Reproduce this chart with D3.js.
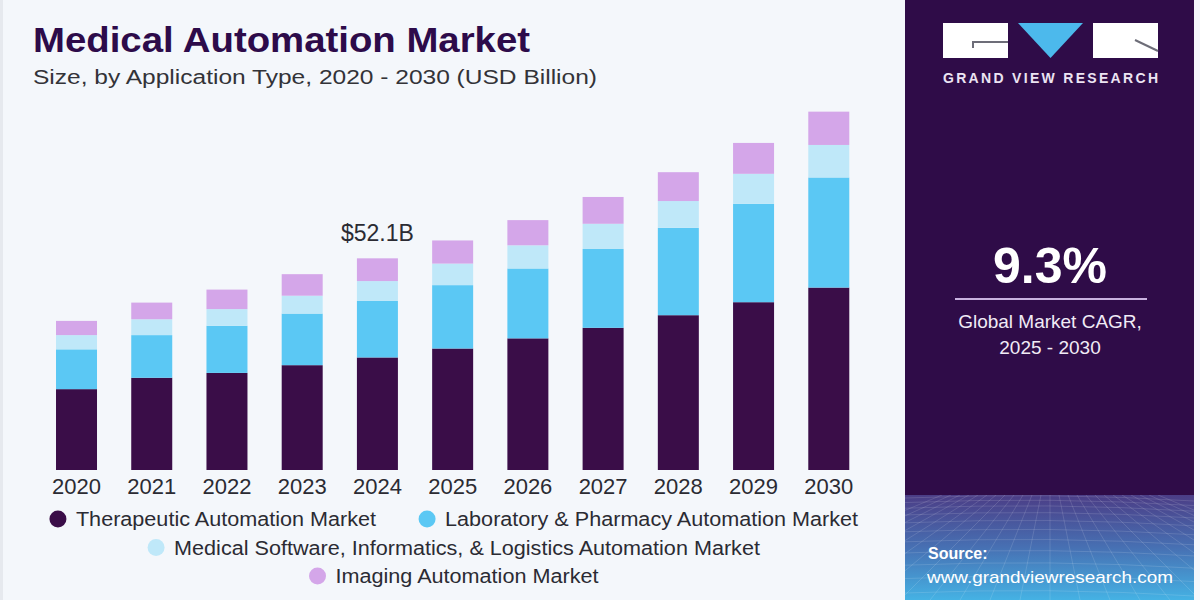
<!DOCTYPE html>
<html>
<head>
<meta charset="utf-8">
<script src="https://cdn.jsdelivr.net/npm/d3@7"></script>
<style>
  html, body { margin: 0; padding: 0; background: #f4f7fb; }
  svg { display: block; font-family: "Liberation Sans", Arial, sans-serif; }
</style>
</head>
<body>
<svg id="chart" width="1200" height="600"></svg>
<script>
// data (USD Billion)
var years = ["2020", "2021", "2022", "2023", "2024", "2025", "2026", "2027", "2028", "2029", "2030"];
var therapeutic = [19.9, 22.7, 23.9, 25.8, 27.7, 29.9, 32.4, 35.0, 38.1, 41.3, 44.9];
var labPharmacy = [9.8, 10.5, 11.6, 12.7, 13.9, 15.6, 17.2, 19.4, 21.5, 24.2, 27.1];
var software = [3.5, 3.9, 4.1, 4.4, 4.9, 5.3, 5.7, 6.2, 6.6, 7.4, 8.0];
var imaging = [3.5, 4.1, 4.8, 5.3, 5.6, 5.7, 6.2, 6.6, 7.1, 7.6, 8.2];
var seriesNames = [
    "Therapeutic Automation Market",
    "Laboratory & Pharmacy Automation Market",
    "Medical Software, Informatics, & Logistics Automation Market",
    "Imaging Automation Market"
];
var seriesColors = ["#3a0d48", "#5bc8f4", "#bfe8f9", "#d4a6e9"];
var highlightYear = "2024";
var highlightLabel = "$52.1B";
var legendRows = [[0, 1], [2], [3]];

var svg = d3.select("#chart");

// backgrounds
svg.append("rect").attr("width", 1200).attr("height", 600).attr("fill", "#f4f7fb");
svg.append("rect").attr("x", 0).attr("y", 0).attr("width", 3).attr("height", 600).attr("fill", "#e6e9ee");

// ---------- chart ----------
var table = years.map(function(y, i) {
    return {year: y, s0: therapeutic[i], s1: labPharmacy[i], s2: software[i], s3: imaging[i]};
});
var keys = ["s0", "s1", "s2", "s3"];
var stacked = d3.stack().keys(keys)(table);

var x = d3.scaleBand()
    .domain(years)
    .range([38.9, 866.4])
    .paddingInner(0.455)
    .paddingOuter(0.2275);

var y = d3.scaleLinear()
    .domain([0, 100])
    .range([470, 470 - 406.3]);

svg.append("g")
    .selectAll("g")
    .data(stacked).enter()
    .append("g")
    .attr("fill", function(d, i) { return seriesColors[i]; })
    .selectAll("rect")
    .data(function(d) { return d; }).enter()
    .append("rect")
    .attr("x", function(d) { return x(d.data.year); })
    .attr("width", x.bandwidth())
    .attr("y", function(d) { return y(d[1]); })
    .attr("height", function(d) { return y(d[0]) - y(d[1]); });

var xAxis = svg.append("g")
    .attr("transform", "translate(0,470)")
    .call(d3.axisBottom(x).tickSize(0).tickPadding(8));
xAxis.select(".domain").remove();
xAxis.selectAll("text")
    .attr("font-size", 22)
    .attr("font-family", "Liberation Sans, Arial, sans-serif")
    .attr("fill", "#2b2b33");

// value label over highlighted bar
var hi = years.indexOf(highlightYear);
var hiTotal = therapeutic[hi] + labPharmacy[hi] + software[hi] + imaging[hi];
svg.append("text")
    .attr("x", x(highlightYear) + x.bandwidth() / 2)
    .attr("y", y(hiTotal) - 17)
    .attr("text-anchor", "middle")
    .attr("font-size", 23)
    .attr("fill", "#2b2b33")
    .text(highlightLabel);

// title
svg.append("text")
    .attr("x", 33).attr("y", 52)
    .attr("font-size", 35)
    .attr("font-weight", 900)
    .attr("fill", "#2d0b4a")
    .attr("textLength", 497)
    .attr("lengthAdjust", "spacingAndGlyphs")
    .text("Medical Automation Market");

svg.append("text")
    .attr("x", 33).attr("y", 84)
    .attr("font-size", 20)
    .attr("fill", "#333338")
    .attr("textLength", 564)
    .attr("lengthAdjust", "spacingAndGlyphs")
    .text("Size, by Application Type, 2020 - 2030 (USD Billion)");

// legend, rows centred on the plot area
var legendCenter = 454;
legendRows.forEach(function(row, r) {
    var rowY = 519 + r * 28.5;
    var g = svg.append("g");
    var cursor = 0;
    row.forEach(function(idx) {
        var item = g.append("g");
        item.append("circle").attr("cx", 8).attr("cy", 0).attr("r", 8.5).attr("fill", seriesColors[idx]);
        var t = item.append("text")
            .attr("x", 26).attr("y", 7)
            .attr("font-size", 20)
            .attr("fill", "#2b2b33")
            .text(seriesNames[idx]);
        var tw = t.node().getComputedTextLength() * 1.08;
        t.attr("textLength", tw).attr("lengthAdjust", "spacingAndGlyphs");
        item.attr("transform", "translate(" + cursor + ",0)");
        cursor += 26 + tw + 43;
    });
    var total = cursor - 43;
    g.attr("transform", "translate(" + (legendCenter - total / 2) + "," + rowY + ")");
});

// ---------- right panel ----------
var panel = svg.append("g");
panel.append("rect").attr("x", 905).attr("y", 0).attr("width", 289).attr("height", 600).attr("fill", "#2f0c48");

// logo
panel.append("rect").attr("x", 943).attr("y", 23).attr("width", 65).attr("height", 35).attr("fill", "#ffffff");
panel.append("path").attr("d", "M973,48 V42 H1008").attr("fill", "none").attr("stroke", "#6d6d78").attr("stroke-width", 2);
panel.append("path").attr("d", "M1018,23 H1083 L1050.5,58 Z").attr("fill", "#4cb9ec");
panel.append("rect").attr("x", 1093).attr("y", 23).attr("width", 65).attr("height", 35).attr("fill", "#ffffff");
panel.append("path").attr("d", "M1135,40 L1158,51").attr("fill", "none").attr("stroke", "#6d6d78").attr("stroke-width", 2);
panel.append("text")
    .attr("x", 943).attr("y", 83)
    .attr("font-size", 14).attr("font-weight", "bold")
    .attr("fill", "#ece4f3")
    .attr("textLength", 215).attr("lengthAdjust", "spacing")
    .text("GRAND VIEW RESEARCH");

// CAGR block
panel.append("text")
    .attr("x", 1050).attr("y", 283)
    .attr("text-anchor", "middle")
    .attr("font-size", 50).attr("font-weight", "bold")
    .attr("fill", "#ffffff")
    .text("9.3%");
panel.append("line")
    .attr("x1", 955).attr("x2", 1147).attr("y1", 299).attr("y2", 299)
    .attr("stroke", "#c9b2df").attr("stroke-width", 2);
panel.append("text")
    .attr("x", 1050).attr("y", 328)
    .attr("text-anchor", "middle")
    .attr("font-size", 19).attr("fill", "#f1ebf6")
    .text("Global Market CAGR,");
panel.append("text")
    .attr("x", 1050).attr("y", 354)
    .attr("text-anchor", "middle")
    .attr("font-size", 19).attr("fill", "#f1ebf6")
    .text("2025 - 2030");

// source block with gradient and faint grid
var defs = svg.append("defs");
var grad = defs.append("linearGradient").attr("id", "srcGrad").attr("x1", 0).attr("y1", 0).attr("x2", 0).attr("y2", 1);
grad.append("stop").attr("offset", "0%").attr("stop-color", "#4b3d86");
grad.append("stop").attr("offset", "50%").attr("stop-color", "#4770b3");
grad.append("stop").attr("offset", "100%").attr("stop-color", "#45b2e4");
defs.append("clipPath").attr("id", "srcClip")
    .append("rect").attr("x", 905).attr("y", 495).attr("width", 289).attr("height", 105);

panel.append("rect").attr("x", 905).attr("y", 495).attr("width", 289).attr("height", 105).attr("fill", "url(#srcGrad)");
var grid = panel.append("g").attr("clip-path", "url(#srcClip)")
    .attr("stroke", "#ffffff").attr("stroke-opacity", 0.13).attr("fill", "none");
d3.range(0, 14).forEach(function(k) {
    var yy = 498 + k * k * 0.55 + k * 4;
    grid.append("path").attr("d", "M905," + yy + " Q1050," + (yy - 6) + " 1194," + (yy + 3));
});
d3.range(-12, 13).forEach(function(k) {
    grid.append("line")
        .attr("x1", 1050 + k * 9).attr("y1", 495)
        .attr("x2", 1050 + k * 30).attr("y2", 600);
});

panel.append("text")
    .attr("x", 928).attr("y", 559)
    .attr("font-size", 16).attr("font-weight", "bold")
    .attr("fill", "#ffffff")
    .text("Source:");
panel.append("text")
    .attr("x", 927).attr("y", 583)
    .attr("font-size", 17).attr("fill", "#ffffff")
    .attr("textLength", 246).attr("lengthAdjust", "spacingAndGlyphs")
    .text("www.grandviewresearch.com");
</script>
</body>
</html>
